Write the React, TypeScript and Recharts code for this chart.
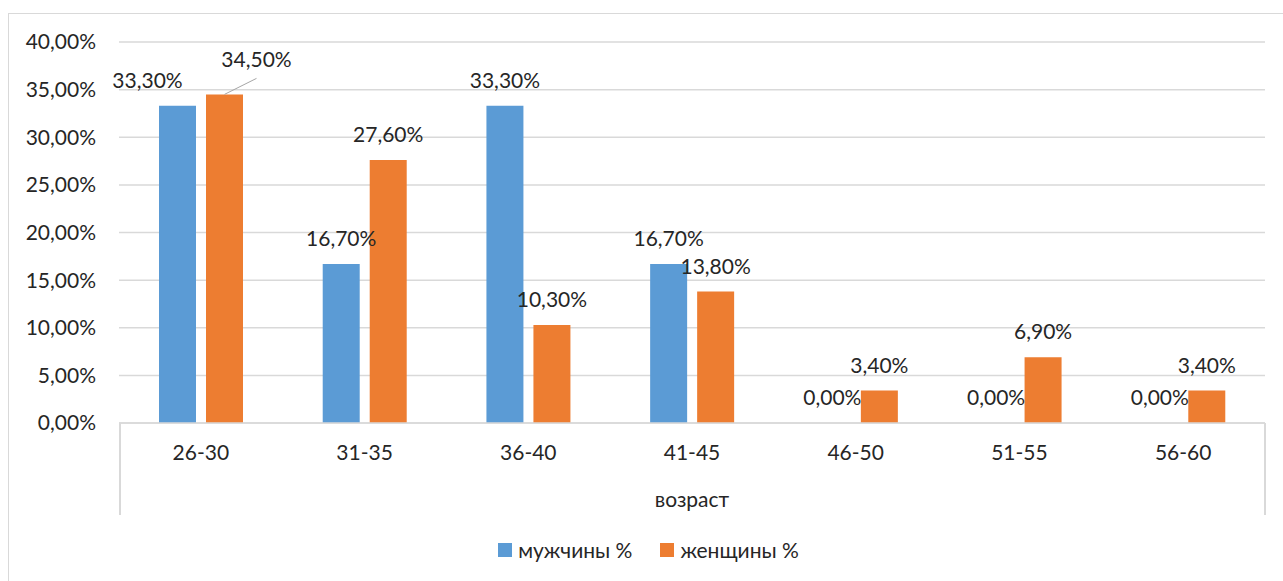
import React from 'react'
import { BarChart, Bar, XAxis, YAxis, CartesianGrid, Legend, LabelList } from 'recharts'

const categories = ['26-30', '31-35', '36-40', '41-45', '46-50', '51-55', '56-60']
const menPct = [33.3, 16.7, 33.3, 16.7, 0, 0, 0]
const womenPct = [34.5, 27.6, 10.3, 13.8, 3.4, 6.9, 3.4]
const yTicks = [0, 5, 10, 15, 20, 25, 30, 35, 40]
const seriesNames = ['мужчины %', 'женщины %']

const chartData = categories.map((age, i) => ({
  age,
  men: menPct[i],
  women: womenPct[i],
}))

const FONT = 'Lato, "Open Sans", sans-serif'
const TEXT = '#262626'
const GRID = '#d9d9d9'
const BLUE = '#5B9BD5'
const ORANGE = '#ED7D31'

// chart box sits at (8, 13) in the page
const CHART_W = 1295
const CHART_H = 568
const Y_AXIS_W = 111
const MARGIN = { top: 29, right: 38, left: 0, bottom: 0 }
const X_AXIS_H = 92
const LEGEND_H = 66

const fmt = (v: number) => v.toFixed(2).replace('.', ',') + '%'

// zero bars get a hair of height so their "0,00%" labels still render
const zeroSafe = (v: any) => (Number(v) === 0 ? 0.01 : 0)

// Excel-like data labels; first pair of labels was dragged apart in the original
const makeLabel = (series: 'men' | 'women') => (props: any) => {
  const { x, y, width, height, value, index } = props
  const top = Math.min(y, y + height)
  let cx = x + width / 2
  let base = top - 18
  let leader = null
  if (index === 0 && series === 'men') cx -= 30
  if (index === 0 && series === 'women') {
    const bx = x + width / 2
    cx = bx + 32
    base = top - 27
    leader = <line x1={bx} y1={top} x2={cx} y2={top - 16} stroke="#a6a6a6" strokeWidth={1} />
  }
  return (
    <g>
      {leader}
      <text x={cx} y={base} textAnchor="middle" fill={TEXT} fontSize={21} fontFamily={FONT}>
        {fmt(Number(value))}
      </text>
    </g>
  )
}

const renderLegend = (props: any) => {
  const items = [...(props.payload || [])].sort(
    (a: any, b: any) => seriesNames.indexOf(a.value) - seriesNames.indexOf(b.value)
  )
  return (
    <div
      style={{
        height: LEGEND_H,
        display: 'flex',
        justifyContent: 'center',
        alignItems: 'flex-start',
        paddingTop: 23,
        paddingLeft: 24,
        boxSizing: 'border-box',
        fontFamily: FONT,
        fontSize: 21,
        color: TEXT,
      }}
    >
      {items.map((p: any, i: number) => (
        <div key={p.value} style={{ display: 'flex', alignItems: 'center', marginLeft: i ? 28 : 0, lineHeight: '24px' }}>
          <span style={{ width: 14, height: 14, background: p.color, marginRight: 6, display: 'inline-block' }} />
          <span>{p.value}</span>
        </div>
      ))}
    </div>
  )
}

export default function App() {
  const plotBottom = CHART_H - MARGIN.bottom - LEGEND_H - X_AXIS_H
  const plotRight = CHART_W - MARGIN.right
  return (
    <div style={{ position: 'fixed', left: 0, top: 0, width: 1283, height: 581, overflow: 'hidden', background: '#fff' }}>
      <div style={{ position: 'absolute', left: 8, top: 13, width: CHART_W, height: CHART_H + 20, border: `1px solid ${GRID}`, boxSizing: 'border-box' }} />
      <div style={{ position: 'absolute', left: 8, top: 13 }}>
        <BarChart width={CHART_W} height={CHART_H} data={chartData} margin={MARGIN} barSize={37} barGap={10}>
          <CartesianGrid vertical={false} stroke={GRID} strokeWidth={1.5} />
          <XAxis
            dataKey="age"
            height={X_AXIS_H}
            axisLine={{ stroke: GRID, strokeWidth: 1.5 }}
            tickLine={false}
            tickSize={0}
            tickMargin={22}
            tick={{ fill: TEXT, fontSize: 21, fontFamily: FONT }}
            label={{ value: 'возраст', position: 'insideBottom', offset: 8, fill: TEXT, fontSize: 21, fontFamily: FONT }}
          />
          <YAxis
            width={Y_AXIS_W}
            domain={[0, 40]}
            ticks={yTicks}
            axisLine={false}
            tickLine={false}
            tickSize={0}
            tickMargin={23}
            tickFormatter={fmt}
            tick={{ fill: TEXT, fontSize: 21, fontFamily: FONT }}
          />
          <Legend verticalAlign="bottom" content={renderLegend} />
          <Bar dataKey="men" name={seriesNames[0]} fill={BLUE} minPointSize={zeroSafe} isAnimationActive={false}>
            <LabelList dataKey="men" content={makeLabel('men')} />
          </Bar>
          <Bar dataKey="women" name={seriesNames[1]} fill={ORANGE} minPointSize={zeroSafe} isAnimationActive={false}>
            <LabelList dataKey="women" content={makeLabel('women')} />
          </Bar>
        </BarChart>
        {/* multi-level axis box edges below the plot */}
        <div style={{ position: 'absolute', left: Y_AXIS_W, top: plotBottom, width: 1.5, height: X_AXIS_H, background: GRID }} />
        <div style={{ position: 'absolute', left: plotRight - 1, top: plotBottom, width: 1.5, height: X_AXIS_H, background: GRID }} />
      </div>
    </div>
  )
}
